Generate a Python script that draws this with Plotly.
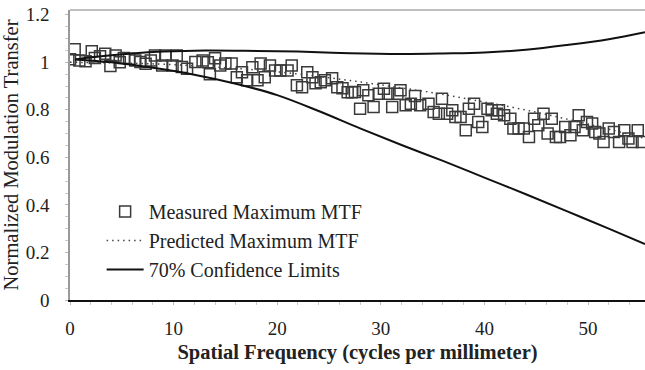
import plotly.graph_objects as go

# Measured maximum MTF (cycles/mm, normalized)
meas_x = [0, 0.45, 0.9, 1.5, 2.1, 2.4, 2.9, 3.4, 3.9, 4.4, 4.8, 5.2, 5.7, 6.3, 6.8, 7.3, 7.8, 8.2, 8.9, 9.2,
          9.9, 10.3, 10.8, 11.3, 12.1, 12.8,
          13.3, 13.5, 14.0, 14.5, 15.0, 15.6, 16.1, 16.6, 17.1, 17.6, 18.1, 18.4, 18.8, 19.3, 19.8, 20.3,
          21.0, 21.4, 21.9, 22.4, 22.9, 23.4, 23.7, 24.2, 24.6, 25.3, 25.8, 26.3, 26.8, 27.2,
          27.5, 28.0, 28.3, 28.8, 29.3, 29.8, 30.3, 30.7, 31.1, 31.6, 31.9, 32.4, 32.9, 33.3, 33.8,
          34.6, 35.1, 35.6, 35.9, 36.4, 36.9, 37.2, 37.7, 38.2, 38.5, 39.0, 39.4, 39.8, 40.3, 40.7, 41.2,
          41.4, 41.9, 42.5, 42.8, 43.3, 43.8, 44.3, 44.8, 45.2, 45.7, 46.1, 46.5, 46.9, 47.3, 47.8,
          48.3, 48.7, 49.1, 49.5, 49.9, 50.4, 50.7, 51.1, 51.5, 52.0, 52.5, 53.0, 53.5, 53.9, 54.3,
          54.8, 55.2]
meas_y = [1.013, 1.055, 1.008, 1.004, 1.046, 1.018, 1.025, 1.036, 0.984, 1.029, 1.0, 1.018, 1.015, 1.008, 1.001,
          0.994, 1.008, 1.029, 0.987, 1.029,
          0.987, 1.029, 0.98, 0.973, 1.001, 1.008,
          1.0, 0.95, 1.017, 0.987, 0.995, 0.995, 0.937, 0.958, 0.924, 0.979, 0.924, 0.995, 0.937, 0.987,
          0.966, 0.966,
          0.966, 0.987, 0.903, 0.895, 0.958, 0.937, 0.912, 0.916, 0.924, 0.933, 0.895, 0.891, 0.874, 0.874,
          0.875, 0.805, 0.882, 0.861, 0.812, 0.868, 0.889, 0.868, 0.812, 0.868, 0.882, 0.819, 0.826, 0.858,
          0.819,
          0.826, 0.791, 0.784, 0.847, 0.784, 0.798, 0.77, 0.77, 0.714, 0.805, 0.826, 0.749, 0.728, 0.805,
          0.798, 0.784,
          0.798, 0.777, 0.763, 0.721, 0.721, 0.721, 0.686, 0.763, 0.735, 0.784, 0.70, 0.763, 0.686, 0.686,
          0.728,
          0.693, 0.728, 0.777, 0.714, 0.749, 0.742, 0.707, 0.70, 0.665, 0.721, 0.707, 0.665, 0.714, 0.679,
          0.665,
          0.714, 0.665]

# Predicted maximum MTF
pred_x = [0, 5, 10, 15, 20, 25, 30, 35, 40, 45, 50, 55.5]
pred_y = [1.0, 0.997, 0.99, 0.977, 0.96, 0.935, 0.905, 0.872, 0.833, 0.79, 0.74, 0.68]

# 70% confidence limits
upper_x = [0.5, 3, 6, 9, 13, 18, 22, 27, 32, 36, 40, 44, 48, 52, 55.5]
upper_y = [1.012, 1.025, 1.037, 1.045, 1.05, 1.048, 1.045, 1.038, 1.035, 1.037, 1.041, 1.053, 1.073, 1.097, 1.126]
lower_x = [0.5, 4, 8, 12, 16, 20, 24, 28, 32, 36, 40, 44, 48, 52, 55.5]
lower_y = [1.012, 1.0, 0.977, 0.948, 0.91, 0.862, 0.795, 0.722, 0.652, 0.585, 0.515, 0.445, 0.373, 0.3, 0.235]

FONT = "Liberation Serif, DejaVu Serif, Times New Roman, serif"

fig = go.Figure()
fig.add_trace(go.Scatter(x=meas_x, y=meas_y, mode="markers", name="Measured Maximum MTF",
                         marker=dict(symbol="square-open", size=11, color="#3a3a3a",
                                     line=dict(width=1.5, color="#3a3a3a"))))
fig.add_trace(go.Scatter(x=pred_x, y=pred_y, mode="lines", name="Predicted Maximum MTF",
                         line=dict(color="#444", width=1.5, dash="1.5px,4px", shape="spline")))
fig.add_trace(go.Scatter(x=upper_x, y=upper_y, mode="lines", name="70% Confidence Limits",
                         line=dict(color="#111", width=2, shape="spline")))
fig.add_trace(go.Scatter(x=lower_x, y=lower_y, mode="lines", name="70% Confidence Limits",
                         showlegend=False, line=dict(color="#111", width=2, shape="spline")))

fig.update_layout(
    width=645, height=370,
    margin=dict(l=70, r=0, t=10, b=70, autoexpand=False),
    paper_bgcolor="white", plot_bgcolor="white",
    font=dict(family=FONT, size=19, color="#222"),
    showlegend=True,
    legend=dict(x=0.055, y=0.372, xanchor="left", yanchor="top",
                bgcolor="rgba(0,0,0,0)", font=dict(family=FONT, size=20, color="#222"),
                itemwidth=37, tracegroupgap=0),
    shapes=[dict(type="line", xref="paper", yref="paper", x0=0, x1=1, y0=1, y1=1,
                 line=dict(color="#aaa", width=1.5))],
)
fig.update_xaxes(range=[0, 55.5], showgrid=False, zeroline=False,
                 showline=True, linecolor="#111", linewidth=2,
                 ticks="outside", ticklen=3, tickcolor="#bbb", dtick=10, tick0=0,
                 minor=dict(ticks="outside", ticklen=3, tickcolor="#ccc", dtick=2),
                 ticklabelstandoff=7, ticklabeloverflow="allow",
                 tickfont=dict(family=FONT, size=19, color="#222"),
                 title=dict(text="<b>Spatial Frequency (cycles per millimeter)</b>",
                            font=dict(family=FONT, size=20.5, color="#222"), standoff=7))
fig.update_yaxes(range=[0, 1.22], showgrid=False, zeroline=False,
                 showline=True, linecolor="#999", linewidth=1.5,
                 ticks="outside", ticklen=3, tickcolor="#bbb", dtick=0.2, tick0=0,
                 minor=dict(ticks="outside", ticklen=3, tickcolor="#ccc", dtick=0.05),
                 ticklabelstandoff=12, ticklabeloverflow="allow",
                 tickfont=dict(family=FONT, size=19, color="#222"),
                 title=dict(text="Normalized Modulation Transfer",
                            font=dict(family=FONT, size=20.5, color="#222"), standoff=4))

# remove the browser's default body margin so the figure sits at the page origin
fig.write_html("out.html", config={"displayModeBar": False},
               post_script="document.body.style.margin='0px';")
